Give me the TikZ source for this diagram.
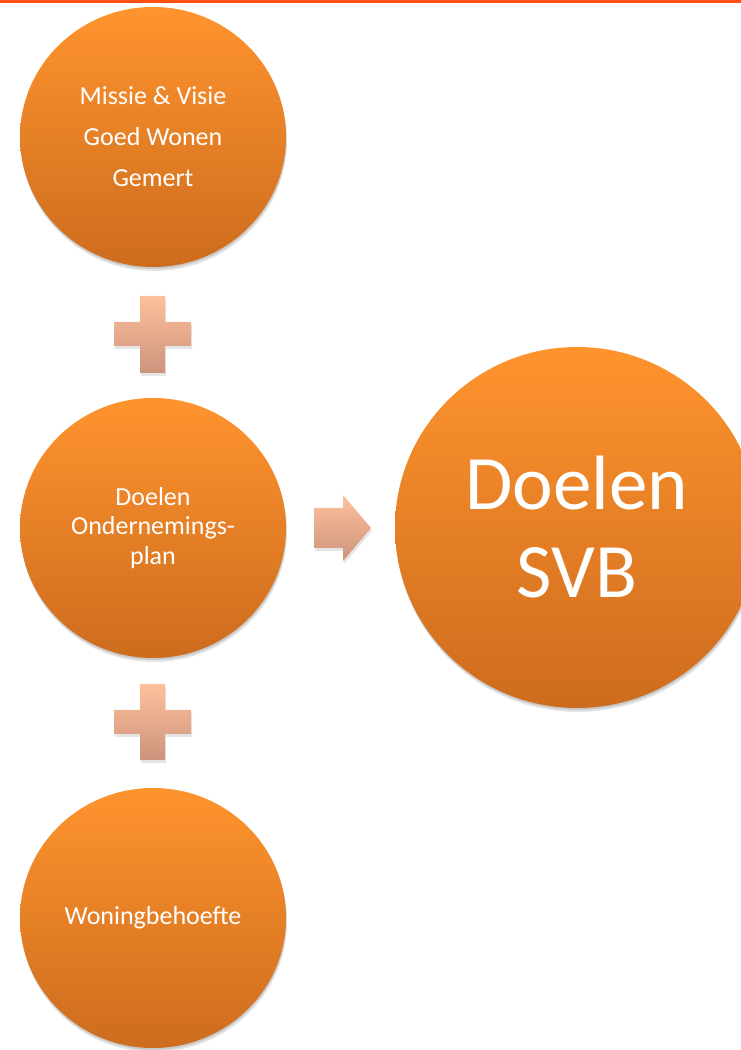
\documentclass[tikz,border=0pt]{standalone}
\usepackage{fontspec}
\setmainfont{Carlito}
\usetikzlibrary{shapes.geometric,shadows}
\definecolor{orTop}{RGB}{255,148,46}
\definecolor{orBot}{RGB}{205,108,30}
\definecolor{plTop}{RGB}{255,192,156}
\definecolor{plBot}{RGB}{204,148,124}
\definecolor{topline}{RGB}{255,80,20}
\tikzset{
  bubble/.style={ellipse, inner sep=0pt, text=white, align=center,
    top color=orTop, bottom color=orBot, draw=none,
    drop shadow={shadow xshift=1pt, shadow yshift=-4pt, opacity=0.10, fill=black},
    drop shadow={shadow xshift=0.5pt, shadow yshift=-2pt, opacity=0.12, fill=black}},
  small/.style={bubble, minimum width=266pt, minimum height=260pt},
  big/.style={bubble, minimum width=364pt, minimum height=361pt},
  symb/.style={top color=plTop, bottom color=plBot, draw=none},
  symbshadow/.style={fill=black, opacity=0.10},
}
\begin{document}
\begin{tikzpicture}[x=1pt,y=1pt]
\useasboundingbox (0,0) rectangle (741,1050);
\fill[topline] (0,1047) rectangle (741,1050);

\node[small, font=\fontsize{26}{41}\selectfont] (missie) at (153,913) {Missie \& Visie\\Goed Wonen\\Gemert};
\node[small, font=\fontsize{26}{29.5}\selectfont] (ondern) at (153,522) {Doelen\\Ondernemings-\\plan};
\node[small, font=\fontsize{26}{30}\selectfont] (woning) at (153,132) {Woningbehoefte};
\node[big, font=\fontsize{77}{88}\selectfont] (svb) at (577,522.5) {Doelen\\SVB};

% plus 1
\path[symbshadow] (141,751) -- (166,751) -- (166,725) -- (192,725) -- (192,701) -- (166,701) -- (166,674) -- (141,674) -- (141,701) -- (115,701) -- (115,725) -- (141,725) -- cycle;
\path[symb] (140,754) -- (165,754) -- (165,728) -- (191,728) -- (191,704) -- (165,704) -- (165,677) -- (140,677) -- (140,704) -- (114,704) -- (114,728) -- (140,728) -- cycle;
% plus 2
\path[symbshadow] (141,363) -- (166,363) -- (166,337) -- (192,337) -- (192,313) -- (166,313) -- (166,287) -- (141,287) -- (141,313) -- (115,313) -- (115,337) -- (141,337) -- cycle;
\path[symb] (140,366) -- (165,366) -- (165,340) -- (191,340) -- (191,316) -- (165,316) -- (165,290) -- (140,290) -- (140,316) -- (114,316) -- (114,340) -- (140,340) -- cycle;
% arrow
\path[symbshadow] (315,539) -- (344,539) -- (344,552) -- (372,519) -- (344,486) -- (344,499) -- (315,499) -- cycle;
\path[symb] (314,542) -- (343,542) -- (343,555) -- (371,522) -- (343,489) -- (343,502) -- (314,502) -- cycle;
\end{tikzpicture}
\end{document}
